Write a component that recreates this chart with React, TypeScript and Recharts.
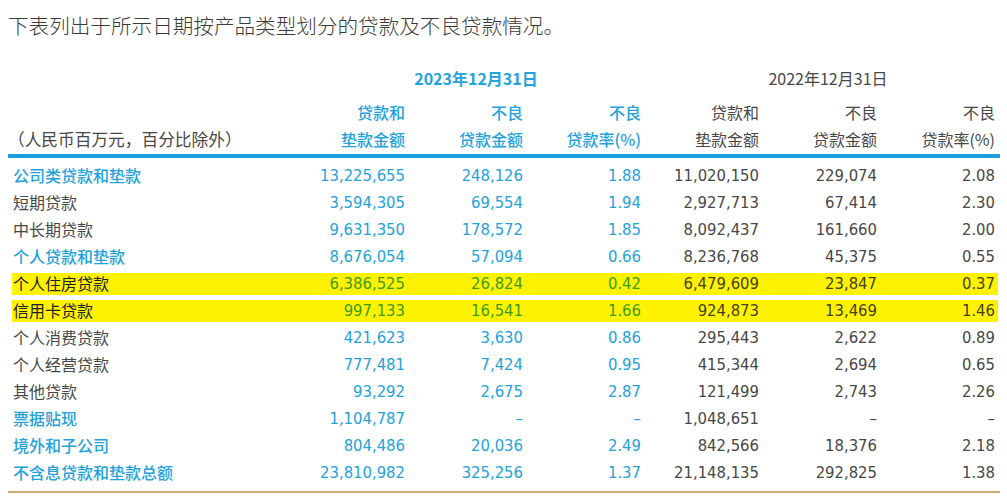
import React from 'react'
import { ScatterChart, Scatter, XAxis, YAxis, ReferenceArea } from 'recharts'

// rows of the table (y categories)
const rows = [
  '公司类贷款和垫款', '短期贷款', '中长期贷款', '个人贷款和垫款', '个人住房贷款', '信用卡贷款',
  '个人消费贷款', '个人经营贷款', '其他贷款', '票据贴现', '境外和子公司', '不含息贷款和垫款总额',
]
const boldRows = ['公司类贷款和垫款', '个人贷款和垫款', '票据贴现', '境外和子公司', '不含息贷款和垫款总额']
const highlightRows = ['个人住房贷款', '信用卡贷款']

// columns (x categories)
const columns = ['loans2023', 'npl2023', 'rate2023', 'loans2022', 'npl2022', 'rate2022']
const headTop = ['贷款和', '不良', '不良', '贷款和', '不良', '不良']
const headBottom = ['垫款金额', '贷款金额', '贷款率(%)', '垫款金额', '贷款金额', '贷款率(%)']

const loans2023 = [13225655, 3594305, 9631350, 8676054, 6386525, 997133, 421623, 777481, 93292, 1104787, 804486, 23810982]
const npl2023 = [248126, 69554, 178572, 57094, 26824, 16541, 3630, 7424, 2675, null, 20036, 325256]
const rate2023 = [1.88, 1.94, 1.85, 0.66, 0.42, 1.66, 0.86, 0.95, 2.87, null, 2.49, 1.37]
const loans2022 = [11020150, 2927713, 8092437, 8236768, 6479609, 924873, 295443, 415344, 121499, 1048651, 842566, 21148135]
const npl2022 = [229074, 67414, 161660, 45375, 23847, 13469, 2622, 2694, 2743, null, 18376, 292825]
const rate2022 = [2.08, 2.30, 2.00, 0.55, 0.37, 1.46, 0.89, 0.65, 2.26, null, 2.18, 1.38]

const CJK = '"Noto Sans CJK SC", "Noto Sans", sans-serif'
const NUM = '"Liberation Sans Narrow", "DejaVu Sans Condensed", sans-serif'
const BLUE = '#24a2dc'
const GRAY = '#474747'

const W = 1007
const H = 500
const PLOT_LEFT = 290
const PLOT_RIGHT = 998
const BW = (PLOT_RIGHT - PLOT_LEFT) / columns.length

const fmtInt = (v: number | null) => (v == null ? '–' : v.toLocaleString('en-US'))
const fmtPct = (v: number | null) => (v == null ? '–' : v.toFixed(2))

const seriesByCol = [loans2023, npl2023, rate2023, loans2022, npl2022, rate2022]
const cells = rows.flatMap((row, i) =>
  columns.map((col, j) => ({ row, col, text: (j % 3 === 2 ? fmtPct : fmtInt)(seriesByCol[j][i]) }))
)

const CellText = (props: any) => {
  const { cx, cy, payload } = props
  const is2023 = columns.indexOf(payload.col) < 3
  const hl = highlightRows.includes(payload.row)
  const color = hl ? (is2023 ? '#3c9c1a' : '#45411f') : is2023 ? BLUE : GRAY
  return (
    <text x={cx + BW / 2 - 3} y={cy} textAnchor="end" dominantBaseline="central"
      fill={color} fontSize={16.5} fontFamily={NUM}>
      {payload.text}
    </text>
  )
}

const RowTick = ({ y, payload }: any) => {
  const bold = boldRows.includes(payload.value)
  const hl = highlightRows.includes(payload.value)
  return (
    <text x={13} y={y} dominantBaseline="central" fontSize={16} fontFamily={CJK}
      fontWeight={bold ? 500 : 400} fill={bold ? BLUE : hl ? '#222' : GRAY}>
      {payload.value}
    </text>
  )
}

const HeadTick = ({ x, payload }: any) => {
  const j = columns.indexOf(payload.value)
  const is2023 = j < 3
  const right = x + BW / 2 - 3
  const fill = is2023 ? BLUE : GRAY
  const weight = is2023 ? 500 : 400
  return (
    <g>
      <text x={right} y={112} textAnchor="end" dominantBaseline="central" fontSize={16}
        fontFamily={CJK} fontWeight={weight} fill={fill} stroke="none">{headTop[j]}</text>
      <text x={right} y={139} textAnchor="end" dominantBaseline="central" fontSize={16}
        fontFamily={CJK} fontWeight={weight} fill={fill} stroke="none">{headBottom[j]}</text>
    </g>
  )
}

const Highlight = ({ x, y, width, height }: any) => (
  <rect x={12} y={y + 3.5} width={x + width - 12} height={height - 5} fill="#fff200" />
)

export default function App() {
  return (
    <div style={{ position: 'relative', width: W, height: H, background: '#fff', overflow: 'hidden' }}>
      <style>{'body{margin:0}'}</style>
      <div style={{ position: 'absolute', left: 8, top: 11, fontSize: 20.6, fontWeight: 300, color: '#3a3a3a', fontFamily: CJK, lineHeight: '28px', whiteSpace: 'nowrap' }}>
        下表列出于所示日期按产品类型划分的贷款及不良贷款情况。
      </div>
      <div style={{ position: 'absolute', left: 8, top: 126, fontSize: 16.7, color: GRAY, fontFamily: CJK, lineHeight: '26px', whiteSpace: 'nowrap' }}>
        （人民币百万元，百分比除外）
      </div>
      <div style={{ position: 'absolute', left: 376, width: 200, top: 65, textAlign: 'center', fontSize: 16, fontWeight: 700, color: BLUE, fontFamily: CJK, lineHeight: '26px' }}>
        2023年12月31日
      </div>
      <div style={{ position: 'absolute', left: 728, width: 200, top: 65, textAlign: 'center', fontSize: 16, color: GRAY, fontFamily: CJK, lineHeight: '26px' }}>
        2022年12月31日
      </div>
      <div style={{ position: 'absolute', left: 8, width: 992, top: 154, height: 4, background: '#1ba0dc' }} />
      <div style={{ position: 'absolute', left: 8, width: 992, top: 491, height: 2, background: '#c8aa72' }} />
      <div style={{ position: 'absolute', left: 0, top: 0 }}>
        <ScatterChart width={W} height={H} margin={{ top: 81.5, right: W - PLOT_RIGHT, bottom: 14.5, left: 0 }}>
          <XAxis dataKey="col" type="category" scale="band" orientation="top" height={80} ticks={columns}
            allowDuplicatedCategory={false} interval={0} tickLine={false} axisLine={false} tick={<HeadTick />} />
          <YAxis dataKey="row" type="category" scale="band" width={PLOT_LEFT} reversed ticks={rows}
            allowDuplicatedCategory={false} interval={0} tickLine={false} axisLine={false} tick={<RowTick />} />
          {highlightRows.map((r) => (
            <ReferenceArea key={r} y1={r} y2={r} shape={<Highlight />} ifOverflow="visible" />
          ))}
          <Scatter data={cells} shape={<CellText />} isAnimationActive={false} />
        </ScatterChart>
      </div>
    </div>
  )
}
